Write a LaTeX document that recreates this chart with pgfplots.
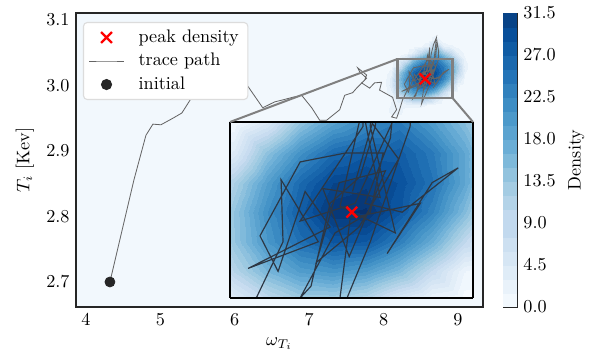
\documentclass[border=0pt]{standalone}
\usepackage{pgfplots}
\pgfplotsset{compat=1.18}
\usepackage{pgfplotstable}

\definecolor{bgblue}{RGB}{242,248,253}
\definecolor{tracegray}{RGB}{100,100,100}
\definecolor{tracedark}{RGB}{45,55,68}
\definecolor{framegray}{RGB}{38,38,38}
\definecolor{zoomgray}{RGB}{128,128,128}
\definecolor{legendedge}{RGB}{220,220,220}

\pgfplotsset{
  colormap={blues}{rgb255=(247,251,255) rgb255=(222,235,247) rgb255=(198,219,239) rgb255=(158,202,225) rgb255=(107,174,214) rgb255=(66,146,198) rgb255=(33,113,181) rgb255=(8,81,156) rgb255=(8,48,107)},
  colormap={bluesd}{rgb255(0cm)=(242,248,253) rgb255(1cm)=(233,242,250) rgb255(2cm)=(223,236,247)
    rgb255(3cm)=(214,230,244) rgb255(4cm)=(205,224,241) rgb255(5cm)=(194,217,238) rgb255(6cm)=(179,211,232)
    rgb255(7cm)=(164,204,227) rgb255(8cm)=(146,195,222) rgb255(9cm)=(126,185,218) rgb255(10cm)=(107,174,214)
    rgb255(11cm)=(91,163,208) rgb255(12cm)=(76,153,202) rgb255(13cm)=(61,141,196) rgb255(14cm)=(49,129,189)
    rgb255(15cm)=(36,116,183) rgb255(16cm)=(26,104,174) rgb255(17cm)=(16,92,164) rgb255(18cm)=(8,79,154)
    rgb255(19cm)=(8,67,135) rgb255(20cm)=(8,54,116) rgb255(21cm)=(8,54,116)},
}

\pgfplotstableread{
x y
4.322 2.700
4.645 2.856
4.806 2.924
4.900 2.941
5.007 2.940
5.168 2.950
5.289 2.958
5.423 2.982
5.490 2.990
5.692 2.989
5.799 2.996
5.906 3.007
5.973 3.007
6.067 3.002
6.175 2.999
6.376 2.966
6.537 2.975
6.645 2.978
6.779 2.982
6.899 2.985
7.034 2.966
7.141 2.947
7.235 2.947
7.410 2.963
7.477 2.985
7.584 2.989
7.638 2.996
7.745 3.008
7.772 3.016
7.651 3.027
7.678 3.021
7.772 3.011
7.705 3.004
7.812 2.996
7.879 3.004
7.973 3.005
7.946 2.993
8.121 2.982
8.175 2.963
8.108 2.952
8.175 2.950
8.215 2.963
8.255 2.978
8.349 3.000
8.343 3.021
8.456 3.000
8.243 2.991
8.492 3.005
8.416 3.017
8.334 2.990
8.279 3.002
8.401 3.027
8.538 3.030
8.653 3.030
8.614 3.010
8.507 3.003
8.401 2.981
8.434 2.985
8.492 3.013
8.583 3.022
8.629 3.039
8.640 3.048
8.670 3.062
8.710 3.073
8.690 3.052
8.675 3.035
8.598 3.013
8.711 3.010
8.881 3.025
8.802 3.020
8.665 2.996
8.766 3.013
8.553 3.008
8.522 2.981
8.510 2.972
8.614 3.000
8.735 3.039
8.740 3.052
8.720 3.066
8.700 3.045
8.568 3.013
8.401 3.007
8.592 3.039
8.590 3.045
8.522 3.012
8.690 3.003
8.614 3.039
8.620 3.058
8.600 3.040
8.644 3.015
8.470 3.018
8.550 2.995
8.660 3.024
8.520 3.020
8.450 2.993
8.580 3.005
8.700 3.028
8.620 3.040
8.560 3.017
}\tracetable

\pgfplotstableread{
x y z
7.9 2.94 0
8.0 2.94 0
8.1 2.94 0.05
8.2 2.94 0.05
8.3 2.94 0.01
8.4 2.94 0
8.5 2.94 0
8.6 2.94 0
8.7 2.94 0
8.8 2.94 0
8.9 2.94 0
9.0 2.94 0
9.1 2.94 0
9.2 2.94 0
7.9 2.95 0
8.0 2.95 0.14
8.1 2.95 0.68
8.2 2.95 0.68
8.3 2.95 0.16
8.4 2.95 0.02
8.5 2.95 0.01
8.6 2.95 0
8.7 2.95 0
8.8 2.95 0
8.9 2.95 0
9.0 2.95 0
9.1 2.95 0
9.2 2.95 0
7.9 2.96 0
8.0 2.96 0.43
8.1 2.96 2.20
8.2 2.96 2.37
8.3 2.96 0.70
8.4 2.96 0.32
8.5 2.96 0.26
8.6 2.96 0.17
8.7 2.96 0.06
8.8 2.96 0.01
8.9 2.96 0
9.0 2.96 0
9.1 2.96 0
9.2 2.96 0
7.9 2.97 0.01
8.0 2.97 0.36
8.1 2.97 1.67
8.2 2.97 2.41
8.3 2.97 2.01
8.4 2.97 2.22
8.5 2.97 2.01
8.6 2.97 1.30
8.7 2.97 0.64
8.8 2.97 0.22
8.9 2.97 0.05
9.0 2.97 0
9.1 2.97 0
9.2 2.97 0
7.9 2.98 0.05
8.0 2.98 0.36
8.1 2.98 1.38
8.2 2.98 3.93
8.3 2.98 8.01
8.4 2.98 11.0
8.5 2.98 11.1
8.6 2.98 8.80
8.7 2.98 4.33
8.8 2.98 1.49
8.9 2.98 0.42
9.0 2.98 0.07
9.1 2.98 0
9.2 2.98 0
7.9 2.99 0.10
8.0 2.99 0.61
8.1 2.99 2.74
8.2 2.99 9.65
8.3 2.99 14.8
8.4 2.99 18.2
8.5 2.99 19.4
8.6 2.99 18.0
8.7 2.99 14.2
8.8 2.99 8.19
8.9 2.99 2.18
9.0 2.99 0.49
9.1 2.99 0.07
9.2 2.99 0
7.9 3.00 0.12
8.0 3.00 0.78
8.1 3.00 4.00
8.2 3.00 12.5
8.3 3.00 18.8
8.4 3.00 23.6
8.5 3.00 26.5
8.6 3.00 26.2
8.7 3.00 21.9
8.8 3.00 16.0
8.9 3.00 8.64
9.0 3.00 1.81
9.1 3.00 0.33
9.2 3.00 0.03
7.9 3.01 0.08
8.0 3.01 0.64
8.1 3.01 3.68
8.2 3.01 12.7
8.3 3.01 19.9
8.4 3.01 25.7
8.5 3.01 30.2
8.6 3.01 30.7
8.7 3.01 26.6
8.8 3.01 21.3
8.9 3.01 14.2
9.0 3.01 5.02
9.1 3.01 0.91
9.2 3.01 0.14
7.9 3.02 0.03
8.0 3.02 0.35
8.1 3.02 2.12
8.2 3.02 10.5
8.3 3.02 17.9
8.4 3.02 24.3
8.5 3.02 28.4
8.6 3.02 29.1
8.7 3.02 27.2
8.8 3.02 23.3
8.9 3.02 17.0
9.0 3.02 8.96
9.1 3.02 1.67
9.2 3.02 0.27
7.9 3.03 0.01
8.0 3.03 0.13
8.1 3.03 0.84
8.2 3.03 4.45
8.3 3.03 13.2
8.4 3.03 19.6
8.5 3.03 24.2
8.6 3.03 26.0
8.7 3.03 25.8
8.8 3.03 22.4
8.9 3.03 16.9
9.0 3.03 9.92
9.1 3.03 2.08
9.2 3.03 0.37
7.9 3.04 0
8.0 3.04 0.02
8.1 3.04 0.23
8.2 3.04 1.21
8.3 3.04 5.20
8.4 3.04 12.7
8.5 3.04 17.5
8.6 3.04 20.4
8.7 3.04 22.3
8.8 3.04 18.3
8.9 3.04 13.8
9.0 3.04 6.91
9.1 3.04 1.66
9.2 3.04 0.34
7.9 3.05 0
8.0 3.05 0
8.1 3.05 0.03
8.2 3.05 0.24
8.3 3.05 1.04
8.4 3.05 3.44
8.5 3.05 8.50
8.6 3.05 12.4
8.7 3.05 17.1
8.8 3.05 11.9
8.9 3.05 7.79
9.0 3.05 3.01
9.1 3.05 0.90
9.2 3.05 0.20
7.9 3.06 0
8.0 3.06 0
8.1 3.06 0
8.2 3.06 0.02
8.3 3.06 0.16
8.4 3.06 0.53
8.5 3.06 1.29
8.6 3.06 2.97
8.7 3.06 11.2
8.8 3.06 3.12
8.9 3.06 1.89
9.0 3.06 0.92
9.1 3.06 0.32
9.2 3.06 0.07
7.9 3.07 0
8.0 3.07 0
8.1 3.07 0
8.2 3.07 0
8.3 3.07 0.01
8.4 3.07 0.05
8.5 3.07 0.17
8.6 3.07 0.50
8.7 3.07 3.10
8.8 3.07 0.54
8.9 3.07 0.36
9.0 3.07 0.20
9.1 3.07 0.07
9.2 3.07 0.01
7.9 3.08 0
8.0 3.08 0
8.1 3.08 0
8.2 3.08 0
8.3 3.08 0
8.4 3.08 0
8.5 3.08 0.01
8.6 3.08 0.07
8.7 3.08 0.58
8.8 3.08 0.04
8.9 3.08 0.03
9.0 3.08 0.02
9.1 3.08 0
9.2 3.08 0
7.9 3.09 0
8.0 3.09 0
8.1 3.09 0
8.2 3.09 0
8.3 3.09 0
8.4 3.09 0
8.5 3.09 0
8.6 3.09 0
8.7 3.09 0.07
8.8 3.09 0
8.9 3.09 0
9.0 3.09 0
9.1 3.09 0
9.2 3.09 0
}\densitytable

\begin{document}
\begin{tikzpicture}
\begin{axis}[
  name=main,
  width=223.85pt, height=161.7pt, scale only axis,
  xmin=3.866, xmax=9.336, ymin=2.6618, ymax=3.1107,
  xtick={4,5,6,7,8,9}, ytick={2.7,2.8,2.9,3.0,3.1},
  yticklabel style={/pgf/number format/.cd, fixed, fixed zerofill, precision=1},
  major tick length=0pt,
  axis line style={framegray, line width=0.7pt},
  axis background/.style={fill=bgblue},
  xlabel={$\omega_{T_i}$}, ylabel={$T_i$ [Kev]},
  colormap name=bluesd,
  point meta min=0, point meta max=31.5,
  legend style={at={(0,1)}, anchor=north west, xshift=3.85pt, yshift=-4.95pt,
    draw=legendedge, line width=0.6pt, fill=white, rounded corners=2pt,
    inner xsep=3pt, inner ysep=2pt, row sep=0.5pt,
    /tikz/every odd column/.append style={column sep=6pt}},
  legend cell align=left,
  legend image code/.code={\draw[mark repeat=2,mark phase=2,#1] plot coordinates {(0cm,0cm) (0.33cm,0cm) (0.66cm,0cm)};},
]
\addlegendimage{only marks, mark=x, mark size=4.2pt, red, line width=1.3pt}
\addlegendentry{peak density}
\addlegendimage{tracegray, line width=0.5pt}
\addlegendentry{trace path}
\addlegendimage{only marks, mark=*, mark size=2.75pt, framegray}
\addlegendentry{initial}

\addplot[surf, shader=interp, colormap access=piecewise constant, mesh/rows=16, mesh/cols=14,
  point meta=\thisrow{z}, forget plot]
  table[x=x, y=y] {\densitytable};
\addplot[tracegray, line width=0.45pt, forget plot] table[x=x, y=y] {\tracetable};
\draw[zoomgray, line width=1.4pt] (axis cs:8.188,2.981) rectangle (axis cs:8.926,3.0405);
\addplot[only marks, mark=x, mark size=4.2pt, red, line width=1.3pt, forget plot] coordinates {(8.558,3.010)};
\addplot[only marks, mark=*, mark size=2.75pt, framegray, forget plot] coordinates {(4.322,2.700)};
\coordinate (rTL) at (axis cs:8.188,3.0405);
\coordinate (rBR) at (axis cs:8.926,2.981);
\end{axis}

% colour bar with 21 discrete levels of 1.5
\begin{axis}[
  name=cb, at={(main.north east)}, anchor=north west, xshift=11pt,
  width=7.7pt, height=161.7pt, scale only axis,
  xmin=0, xmax=1, ymin=0, ymax=31.5, xtick=\empty,
  ytick={0,4.5,9,13.5,18,22.5,27,31.5},
  yticklabel pos=right, ylabel near ticks, ylabel={Density},
  yticklabel style={/pgf/number format/.cd, fixed, fixed zerofill, precision=1},
  major tick length=0pt,
  axis line style={framegray, line width=0.5pt},
  colormap name=bluesd, point meta min=0, point meta max=31.5,
]
\addplot[surf, shader=flat corner, colormap access=piecewise constant, mesh/rows=22, mesh/cols=2, point meta=y] coordinates {
(0,0) (1,0) (0,1.5) (1,1.5) (0,3) (1,3) (0,4.5) (1,4.5) (0,6) (1,6) (0,7.5) (1,7.5)
(0,9) (1,9) (0,10.5) (1,10.5) (0,12) (1,12) (0,13.5) (1,13.5) (0,15) (1,15) (0,16.5) (1,16.5)
(0,18) (1,18) (0,19.5) (1,19.5) (0,21) (1,21) (0,22.5) (1,22.5) (0,24) (1,24) (0,25.5) (1,25.5)
(0,27) (1,27) (0,28.5) (1,28.5) (0,30) (1,30) (0,31.5) (1,31.5)};
\end{axis}

\begin{axis}[
  name=ins, at={(main.south west)}, anchor=south west, xshift=84.7pt, yshift=4.95pt,
  width=133.65pt, height=96.8pt, scale only axis,
  view={0}{90},
  xmin=8.188, xmax=8.926, ymin=2.981, ymax=3.0405,
  xtick=\empty, ytick=\empty, ztick=\empty,
  axis line style={black, line width=0.8pt},
  colormap name=blues,
  point meta min=0, point meta max=31.5,
]
\addplot3[contour filled={number=30}, mesh/rows=16, mesh/cols=14]
  table[x=x, y=y, z=z] {\densitytable};
\addplot[tracedark, line width=0.65pt] table[x=x, y=y] {\tracetable};
\addplot[only marks, mark=x, mark size=4.2pt, red, line width=1.3pt] coordinates {(8.558,3.010)};
\end{axis}

\draw[zoomgray, line width=1.1pt] (rTL) -- (ins.north west);
\draw[zoomgray, line width=1.1pt] (rBR) -- (ins.north east);

\pgfresetboundingbox
\path[use as bounding box] ([xshift=-41.8pt,yshift=-28.05pt]main.south west) rectangle ++(327.25pt,196.9pt);
\end{tikzpicture}
\end{document}
